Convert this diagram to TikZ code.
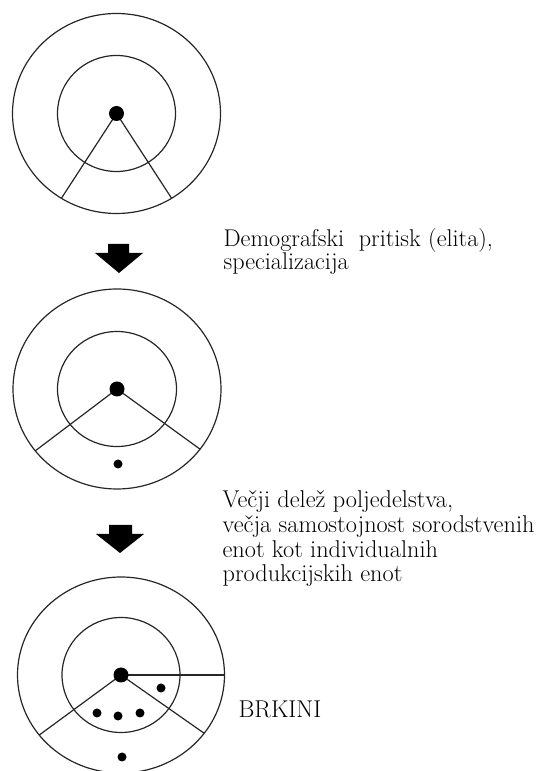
\documentclass[tikz,border=0pt]{standalone}
\usepackage{tikz}
\usetikzlibrary{positioning}

\begin{document}
\begin{tikzpicture}[x=1pt, y=1pt, line width=1.2pt,
  ring/.style={draw=black!85},
  hub/.style={circle, fill=black, minimum size=15pt, inner sep=0pt},
  unit/.style={circle, fill=black, minimum size=9pt, inner sep=0pt},
  blockarrow/.style={fill=black, draw=none},
  note/.style={anchor=base west, inner sep=0pt, align=left},
]
  \useasboundingbox (0,0) rectangle (541,771);

  % stage 1
  \coordinate (c1) at (116.5,657.5);
  \draw[ring] (c1) ellipse [x radius=104, y radius=100];
  \draw[ring] (c1) ellipse [x radius=59, y radius=58];
  \draw[ring] (c1) -- ++({104*cos(-122)},{100*sin(-122)});
  \draw[ring] (c1) -- ++({104*cos(-58)},{100*sin(-58)});
  \node[hub] (h1) at (c1) {};

  \fill[blockarrow] (108,527) -- (129,527) -- (129,518) -- (143,518)
        -- (119,498) -- (95,518) -- (108,518) -- cycle;
  % base anchor sits on the last line
  \node[note, font=\fontsize{24.2}{21}\selectfont] (t1) at (223,501)
        {Demografski\ \ pritisk (elita),\\specializacija};

  % stage 2
  \coordinate (c2) at (117,382);
  \draw[ring] (c2) ellipse [x radius=104, y radius=100];
  \draw[ring] (c2) ellipse [x radius=59.5, y radius=57.5];
  \draw[ring] (c2) -- ++({104*cos(-141.8)},{100*sin(-141.8)});
  \draw[ring] (c2) -- ++({104*cos(-37)},{100*sin(-37)});
  \node[hub] (h2) at (c2) {};
  \node[unit] (u21) at ([shift={(1,-75)}]c2) {};

  \fill[blockarrow] (109,246) -- (132,246) -- (132,237) -- (144,237)
        -- (120,218) -- (96,237) -- (109,237) -- cycle;
  \node[note, font=\fontsize{24.3}{24.7}\selectfont] (t2) at (222,189)
        {Večji delež poljedelstva,\\večja samostojnost sorodstvenih\\enot kot individualnih\\produkcijskih enot};

  % stage 3
  \coordinate (c3) at (121,96);
  \draw[ring] (c3) ellipse [x radius=103.5, y radius=98];
  \draw[ring] (c3) ellipse [x radius=59, y radius=57.5];
  \draw[ring] (c3) -- ++(103.5,0);
  \draw[ring] (c3) -- ++({103.5*cos(-142.2)},{98*sin(-142.2)});
  \draw[ring] (c3) -- ++({103.5*cos(-36.5)},{98*sin(-36.5)});
  \node[hub] (h3) at (c3) {};
  \node[unit] (u31) at ([shift={(40,-13)}]c3) {};
  \node[unit] (u32) at ([shift={(-24,-38)}]c3) {};
  \node[unit] (u33) at ([shift={(-3,-41)}]c3) {};
  \node[unit] (u34) at ([shift={(19,-38)}]c3) {};
  \node[unit] (u35) at ([shift={(1,-82)}]c3) {};

  \node[note, font=\fontsize{24.3}{24}\selectfont] (t3) at (238,53) {BRKINI};
\end{tikzpicture}
\end{document}
